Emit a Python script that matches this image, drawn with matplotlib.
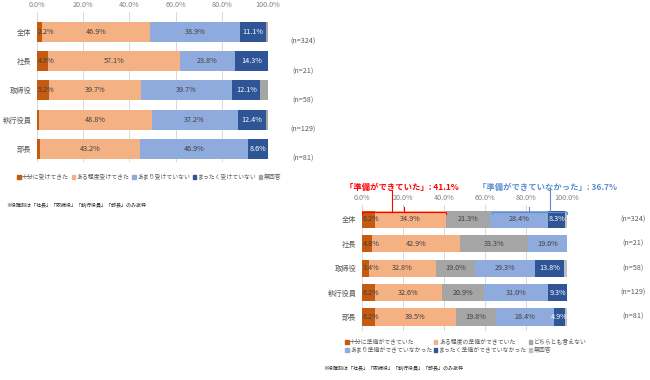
import matplotlib
matplotlib.use('Agg')
import matplotlib.pyplot as plt
import matplotlib.transforms as mtransforms
from matplotlib.patches import Patch

plt.rcParams['font.family'] = ['Noto Sans CJK JP', 'DejaVu Sans']

# ---- data ----
categories = ['全体', '社長', '取締役', '執行役員', '部長']
n_labels = ['(n=324)', '(n=21)', '(n=58)', '(n=129)', '(n=81)']

# left chart: 研修などを受けてきたか
left_series = ['十分に受けてきた', 'ある程度受けてきた', 'あまり受けていない',
               'まったく受けていない', '無回答']
left_values = [
    [2.2, 4.8, 5.2, 0.8, 1.3],
    [46.9, 57.1, 39.7, 48.8, 43.2],
    [38.9, 23.8, 39.7, 37.2, 46.9],
    [11.1, 14.3, 12.1, 12.4, 8.6],
    [0.9, 0.0, 3.3, 0.8, 0.0],
]
left_colors = ['#C55A11', '#F4B183', '#8FAADC', '#2F5597', '#A5A5A5']

# right chart: 準備ができていたか
right_series = ['十分に準備ができていた', 'ある程度の準備ができていた', 'どちらとも言えない',
                'あまり準備ができていなかった', 'まったく準備ができていなかった', '無回答']
right_values = [
    [6.2, 4.8, 3.4, 6.2, 6.2],
    [34.9, 42.9, 32.8, 32.6, 39.5],
    [21.3, 33.3, 19.0, 20.9, 19.8],
    [28.4, 19.0, 29.3, 31.0, 28.4],
    [8.3, 0.0, 13.8, 9.3, 4.9],
    [0.9, 0.0, 1.7, 0.0, 1.2],
]
right_colors = ['#C55A11', '#F4B183', '#A5A5A5', '#8FAADC', '#2F5597', '#BFBFBF']

prepared_total = 41.1
unprepared_total = 36.7

W, H = 650, 380
fig = plt.figure(figsize=(6.5, 3.8), dpi=100)
fig.patch.set_facecolor('white')

TXT = '#595959'
FS = 5.2
LFS = 4.2
NFS = 3.6
note = '※役職別は「社長」「取締役」「執行役員」「部長」のみ抜粋'


def px_axes(x0, y0, x1, y1):
    return fig.add_axes([x0 / W, 1 - y1 / H, (x1 - x0) / W, (y1 - y0) / H])


def draw_bars(ax, values, colors, bar_h, label_min):
    ypos = list(range(len(categories)))
    left = [0.0] * len(categories)
    for si, (vals, col) in enumerate(zip(values, colors)):
        ax.barh(ypos, vals, left=left, height=bar_h, color=col, zorder=2)
        for i, v in enumerate(vals):
            if v >= label_min and si < len(values) - 1:
                tcol = 'white' if col == '#2F5597' else '#404040'
                if si == 0:
                    ax.text(left[i] + 0.3, i, f'{v:.1f}%', ha='left', va='center',
                            fontsize=FS, color=tcol, zorder=3)
                else:
                    ax.text(left[i] + v / 2, i, f'{v:.1f}%', ha='center', va='center',
                            fontsize=FS, color=tcol, zorder=3)
        left = [a + b for a, b in zip(left, vals)]
    ax.set_xlim(0, 100)
    ax.set_xticks([0, 20, 40, 60, 80, 100])
    ax.set_xticklabels([f'{t:.1f}%' for t in [0, 20, 40, 60, 80, 100]])
    ax.xaxis.tick_top()
    ax.tick_params(axis='x', length=0, pad=1.5, labelsize=FS, labelcolor='#808080')
    ax.set_yticks(ypos)
    ax.set_yticklabels(categories)
    ax.tick_params(axis='y', length=0, pad=4, labelsize=FS, labelcolor=TXT)
    ax.grid(axis='x', color='#D9D9D9', linewidth=0.7, zorder=0)
    for s in ax.spines.values():
        s.set_visible(False)
    ax.set_facecolor('white')


# ---- left chart ----
ax1 = px_axes(37, 11.5, 268, 162)
draw_bars(ax1, left_values, left_colors, 0.69, 2.0)
ax1.set_ylim(4.45, -0.7)
tr1 = mtransforms.blended_transform_factory(ax1.transAxes, ax1.transData)
for i, n in enumerate(n_labels):
    ax1.text(1.15, i + 0.34, n, transform=tr1, ha='center', va='center',
             fontsize=FS, color=TXT)

h1 = [Patch(color=c) for c in left_colors]
fig.legend(h1, left_series, loc='center left', bbox_to_anchor=(17 / W, 1 - 177 / H),
           ncol=5, frameon=False, fontsize=LFS, handlelength=0.6, handleheight=0.6,
           handletextpad=0.25, columnspacing=0.45, labelcolor=TXT,
           borderpad=0, borderaxespad=0)
fig.text(6 / W, 1 - 206 / H, note, fontsize=NFS, color='#262626', va='center')

# ---- right chart ----
ax2 = px_axes(362, 204.5, 567, 330.5)
draw_bars(ax2, right_values, right_colors, 0.7, 2.0)
ax2.set_ylim(4.55, -0.6)
tr2 = mtransforms.blended_transform_factory(ax2.transAxes, ax2.transData)
for i, n in enumerate(n_labels):
    ax2.text(1.32, i, n, transform=tr2, ha='center', va='center',
             fontsize=FS, color=TXT)

# brackets
RED = '#FF0000'
BLUE = '#5B8FD0'
yb = -0.31
for (x0, x1, xc, col) in [(0, prepared_total, 14.6, RED),
                          (100 - unprepared_total, 100, 91.9, BLUE)]:
    xm = (x0 + x1) / 2
    ax2.plot([x0, x0, x1, x1], [yb + 0.08, yb, yb, yb + 0.08], color=col,
             lw=0.8, clip_on=False, zorder=4)
    ax2.plot([xm, xm], [yb, yb - 0.18], color=col, lw=0.8, clip_on=False, zorder=4)
    ax2.plot([xc, xc], [yb, -1.18], color=col, lw=0.8, clip_on=False, zorder=4)

ax2.text(-8.3, -1.3, f'「準備ができていた」: {prepared_total:.1f}%', ha='left',
         va='center', fontsize=6, color=RED, fontweight='bold')
ax2.text(56.6, -1.3, f'「準備ができていなかった」: {unprepared_total:.1f}%', ha='left',
         va='center', fontsize=6, color=BLUE, fontweight='bold')

h2 = [Patch(color=c) for c in right_colors]
order = [0, 3, 1, 4, 2, 5]
fig.legend([h2[k] for k in order], [right_series[k] for k in order], loc='center left',
           bbox_to_anchor=(345 / W, 1 - 346 / H), ncol=3, frameon=False, fontsize=LFS,
           handlelength=0.6, handleheight=0.6, handletextpad=0.25, columnspacing=0.3,
           labelspacing=0.35, labelcolor=TXT, borderpad=0, borderaxespad=0)
fig.text(323 / W, 1 - 369 / H, note, fontsize=NFS, color='#262626', va='center')

plt.savefig('out.png', dpi=100, facecolor='white')
